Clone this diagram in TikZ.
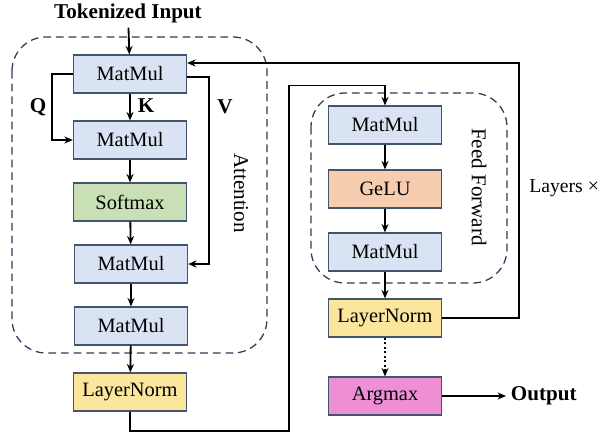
\documentclass[tikz,border=0pt]{standalone}
\usepackage{fontspec}
\setmainfont{Liberation Serif}
\usepackage{tikz}
\usetikzlibrary{arrows.meta, calc}

\definecolor{edgeblue}{HTML}{44546A}
\definecolor{dashnavy}{HTML}{2E3A58}
\definecolor{boxblue}{HTML}{DAE3F3}
\definecolor{boxgreen}{HTML}{C9DFB5}
\definecolor{boxorange}{HTML}{F6CDAF}
\definecolor{boxyellow}{HTML}{FCE59D}
\definecolor{boxpink}{HTML}{EE8FD6}

\begin{document}
\begin{tikzpicture}[x=0.025cm, y=-0.025cm,
        op/.style={draw=edgeblue, line width=0.8pt, minimum width=2.83cm, minimum height=0.95cm,
            inner sep=0pt, font=\fontsize{14.5}{17}\selectfont},
        lbl/.style={font=\fontsize{15}{18}\selectfont\bfseries},
        arr/.style={line width=1.3pt, -{Stealth[length=6pt, width=5pt]}},
        grp/.style={draw=dashnavy, line width=0.9pt, dash pattern=on 5.5pt off 3.5pt, rounded corners=0.85cm}]
        \useasboundingbox (0,0) rectangle (605,435);

        % attention block
        \draw[grp] (12,37) rectangle (267,353);
        \draw[grp] (311,93) rectangle (507,283);

        \node[lbl] (tok) at (128,13) {Tokenized Input};
        \node[op, fill=boxblue] (mm1) at (130,74) {MatMul};
        \node[op, fill=boxblue] (mm2) at (130,140) {MatMul};
        \node[op, fill=boxgreen] (soft) at (130,202) {Softmax};
        \node[op, fill=boxblue] (mm3) at (131,264) {MatMul};
        \node[op, fill=boxblue] (mm4) at (131,326) {MatMul};
        \node[op, fill=boxyellow] (ln1) at (130,392) {LayerNorm};

        \node[lbl] (q) at (38,107) {Q};
        \node[lbl] (k) at (146,106) {K};
        \node[lbl] (v) at (225,107) {V};
        \node[font=\fontsize{15}{18}\selectfont, rotate=-90] (att) at (241,193) {Attention};

        % feed forward block
        \node[op, fill=boxblue] (mm5) at (385,125) {MatMul};
        \node[op, fill=boxorange] (gelu) at (385,189) {GeLU};
        \node[op, fill=boxblue] (mm6) at (385,252) {MatMul};
        \node[op, fill=boxyellow] (ln2) at (385,318) {LayerNorm};
        \node[op, fill=boxpink] (argmax) at (385,396) {Argmax};
        \node[font=\fontsize{15}{18}\selectfont, rotate=-90] (ff) at (479,187) {Feed Forward};

        \node[lbl, anchor=west] (out) at (506,396) {Output};
        \node[font=\fontsize{14}{17}\selectfont, anchor=west, inner sep=0pt] (layers) at (529,188) {Layers ×};

        \draw[arr] (tok) to (mm1);
        \draw[arr] (mm1) to (mm2);
        \draw[arr] (mm2) to (soft);
        \draw[arr] (soft) to (mm3);
        \draw[arr] (mm3) to (mm4);
        \draw[arr] (mm4) to (ln1);
        \draw[arr] (mm1.west) -- ++(-21,0) |- (mm2.west);
        \draw[arr] ($(mm1.east)+(0,3)$) -- ++(22,0) |- (mm3.east);

        \draw[arr] (ln1.south) |- (289,431) |- ($(mm5.north)+(0,-20)$) -- (mm5.north);
        \draw[arr] (mm5) to (gelu);
        \draw[arr] (gelu) to (mm6);
        \draw[arr] (mm6) to (ln2);
        \draw[arr, dash pattern=on 1.6pt off 1.6pt] (ln2) to (argmax);
        \draw[arr] (argmax) to (out);
        \draw[arr] (ln2.east) -- ++(77,0) |- ($(mm1.east)+(0,-11)$);
    \end{tikzpicture}
\end{document}
